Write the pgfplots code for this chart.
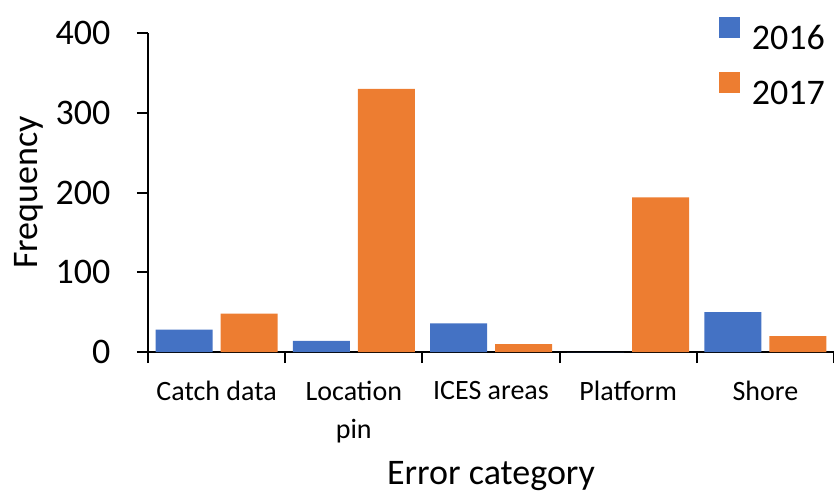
\documentclass[border=0pt]{standalone}
\usepackage{fontspec}
\setmainfont{Carlito}
\usepackage{pgfplots}
\pgfplotsset{compat=1.18}
\definecolor{cA}{HTML}{4472C4}
\definecolor{cB}{HTML}{ED7D31}
\begin{document}
\begin{tikzpicture}
\path[use as bounding box] (-148pt,-143pt) rectangle (686pt,352pt);
\begin{axis}[
  at={(0pt,0pt)}, anchor=south west,
  scale only axis, width=686pt, height=319pt,
  ybar=8pt, bar width=57pt,
  xmin=-0.5, xmax=4.5, ymin=0, ymax=400,
  axis x line*=bottom, axis y line*=left,
  axis line style={line width=2pt, -},
  ytick={0,100,200,300,400},
  xtick={-0.5,0.5,1.5,2.5,3.5,4.5},
  x tick label as interval,
  xticklabels={Catch data, Location\\pin, ICES areas, Platform, Shore, {}},
  tick align=outside,
  major tick length=11pt,
  tick style={line width=2pt, black},
  x tick label style={font=\fontsize{28}{38}\selectfont, align=center, yshift=-15pt},
  y tick label style={font=\fontsize{36}{43}\selectfont, xshift=-23pt},
  /pgf/number format/assume math mode=true,
  ylabel={Frequency}, xlabel={Error category},
  ylabel style={at={(rel axis cs:-0.1742,0.5)}, anchor=center, font=\fontsize{36}{43}\selectfont},
  xlabel style={at={(rel axis cs:0.5,-0.4169)}, anchor=base, font=\fontsize{36}{43}\selectfont},
  legend style={at={(rel axis cs:0.832,1.05)}, anchor=north west, draw=none, fill=none,
    inner sep=0pt, row sep=21pt, column sep=12pt, font=\fontsize{36}{43}\selectfont,
    nodes={inner sep=0pt}},
  legend image code/.code={\fill[#1] (0pt,0pt) rectangle (21pt,21pt);},
  clip=false,
]
\addplot[fill=cA, draw=none] coordinates {(0,28) (1,14) (2,36) (3,0) (4,50)};
\addplot[fill=cB, draw=none] coordinates {(0,48) (1,330) (2,10) (3,194) (4,20)};
\legend{2016,2017}
\end{axis}
\end{tikzpicture}
\end{document}
